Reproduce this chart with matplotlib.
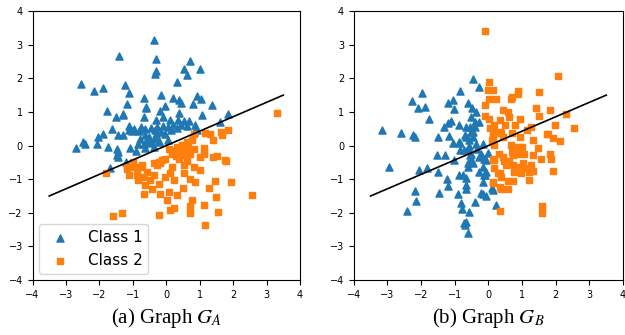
import numpy as np
import matplotlib
matplotlib.use("Agg")
import matplotlib.pyplot as plt

plt.rcParams['mathtext.fontset'] = 'stix'

# panel (a): class 1 (triangles)
a1 = np.array([
    (-0.38, 3.15), (-1.40, 2.66), (-0.32, 2.57), (0.71, 2.51), (1.02, 2.29),
    (0.54, 2.28), (-0.30, 2.22), (-0.33, 2.13), (0.63, 2.09), (0.33, 1.89),
    (-2.55, 1.82), (-2.16, 1.63), (-1.90, 1.72), (-1.24, 1.80), (-1.12, 1.57),
    (-0.67, 1.41), (-0.16, 1.50), (0.19, 1.40), (0.37, 1.35), (0.43, 1.27),
    (0.92, 1.47), (1.05, 1.37), (0.81, 1.25), (1.37, 1.21), (-1.18, 1.23),
    (-0.61, 1.14), (-0.03, 1.17), (-1.77, 1.04), (-1.28, 0.93), (-1.51, 0.84),
    (-0.67, 0.84), (-0.20, 1.02), (0.37, 0.97), (-0.11, 0.85), (0.12, 0.77),
    (-0.32, 0.77), (0.53, 0.73), (0.68, 0.73), (0.35, 0.75), (1.08, 0.90),
    (1.85, 0.94), (1.62, 0.70), (-1.10, 0.58), (-1.10, 0.46), (-1.03, 0.44),
    (-1.63, 0.50), (-0.81, 0.42), (-0.63, 0.50), (-0.46, 0.52), (-0.27, 0.54),
    (-0.09, 0.57), (0.04, 0.55), (0.19, 0.60), (0.31, 0.52), (0.61, 0.57),
    (0.86, 0.60), (0.92, 0.46), (-1.89, 0.33), (-2.05, 0.26), (-1.43, 0.31),
    (-1.30, 0.31), (-0.65, 0.32), (-0.53, 0.26), (-0.04, 0.34), (-0.31, 0.34),
    (-2.48, 0.10), (-2.42, 0.04), (-2.08, 0.04), (-1.74, -0.04), (-2.71, -0.07),
    (-1.08, -0.07), (-0.83, 0.06), (-0.68, 0.06), (-0.58, 0.16), (-0.43, 0.08),
    (-0.23, 0.15), (0.04, 0.18), (-1.44, -0.19), (-1.46, -0.29), (-1.44, -0.34),
    (-0.90, -0.17), (-0.38, -0.04), (-1.68, -0.68), (-1.20, -0.49), (-0.22, 0.11),
    (-1.28, 0.92), (-0.60, 1.12), (-0.95, 0.50), (-0.75, 0.55), (-0.35, 0.45),
    (-0.15, 0.40), (0.15, 0.45), (0.45, 0.60), (0.82, 0.41), (-0.80, 0.20),
    (-0.60, 0.10), (-0.35, 0.20), (-0.63, -0.07), (-1.48, -0.09),
])

# panel (a): class 2 (squares)
a2 = np.array([
    (3.30, 0.97), (1.64, 0.41), (1.84, 0.46), (1.67, 0.31), (1.17, 0.38),
    (1.32, 0.34), (1.40, 0.16), (0.82, 0.34), (0.77, 0.16), (0.62, 0.11),
    (0.47, 0.01), (0.32, -0.03), (1.12, -0.08), (0.82, -0.11), (0.42, -0.24),
    (0.57, -0.29), (0.72, -0.24), (1.02, -0.34), (1.12, -0.24), (1.52, -0.32),
    (1.77, -0.44), (-0.23, -0.49), (-0.28, -0.58), (-0.13, -0.44), (-0.38, -0.53),
    (-0.73, -0.58), (-0.98, -0.58), (-1.18, -0.63), (-1.10, -0.88), (-0.88, -0.88),
    (-0.83, -1.01), (-0.68, -0.93), (0.17, -0.65), (0.10, -0.83), (-0.03, -0.93),
    (0.22, -1.01), (0.52, -0.58), (0.52, -0.83), (0.82, -0.63), (1.02, -0.73),
    (0.72, -0.98), (0.87, -1.08), (-0.38, -0.88), (-0.48, -1.03), (-0.23, -1.13),
    (-0.63, -1.18), (-0.43, -1.28), (-0.18, -1.43), (-0.68, -1.43), (0.07, -1.38),
    (0.32, -1.48), (0.02, -1.62), (0.50, -1.25), (1.47, -1.05), (1.95, -1.08),
    (1.27, -1.25), (1.50, -1.52), (2.57, -1.48), (0.77, -1.62), (0.72, -1.80),
    (1.12, -1.77), (0.22, -1.87), (0.10, -1.92), (1.54, -1.99), (0.70, -2.02),
    (-0.23, -2.07), (-1.33, -2.02), (-1.58, -2.10), (1.17, -2.35), (-1.80, -0.83),
    (-1.16, -0.71), (-1.00, -0.49), (-0.86, -0.66), (1.80, -0.46), (1.14, -0.19),
    (0.17, -0.24), (0.07, -0.09), (-0.03, -0.39), (-0.18, -0.53), (-0.58, -0.78),
    (-0.78, -0.63), (-1.03, -0.63), (0.25, -0.15), (0.38, -0.40), (0.62, -0.45),
    (0.30, -0.30), (0.50, -0.10), (0.65, -0.05), (1.40, -0.34),
])

# panel (b): class 1 (triangles)
b1 = np.array([
    (-3.17, 0.46), (-2.59, 0.36), (-2.23, 0.31), (-2.17, 0.24), (-1.97, 1.56),
    (-2.27, 1.33), (-2.08, 1.13), (-1.88, 1.15), (-1.77, 0.80), (-0.45, 1.99),
    (-0.29, 1.74), (-0.84, 1.62), (-1.06, 1.35), (-1.19, 1.27), (-1.01, 1.10),
    (-0.61, 1.27), (-0.50, 1.13), (-0.37, 1.00), (-0.51, 0.85), (-0.41, 0.70),
    (-0.27, 0.70), (-0.56, 0.55), (-0.68, 0.55), (-0.86, 0.60), (-1.11, 0.73),
    (-1.21, 0.67), (-1.31, 0.55), (-1.16, 0.28), (-1.50, 0.24), (-0.71, 0.31),
    (-0.51, 0.41), (-0.47, 0.26), (-0.58, 0.16), (-1.04, 0.08), (-0.84, 0.08),
    (-0.37, 0.06), (-0.15, 0.06), (-0.45, 0.41), (-0.66, 0.26), (-0.88, 0.11),
    (-2.94, -0.65), (-2.07, -0.73), (-1.83, -0.68), (-1.53, -0.29), (-1.28, -0.29),
    (-1.50, -0.80), (-1.24, -0.98), (-1.21, -1.21), (-2.17, -1.36), (-2.15, -1.65),
    (-2.43, -1.95), (-1.48, -1.41), (-1.01, -0.42), (-0.86, -0.88), (-0.76, -0.88),
    (-0.68, -0.96), (-0.66, -1.18), (-0.68, -1.28), (-0.91, -1.43), (-0.81, -1.70),
    (-0.78, -1.90), (-0.58, -1.97), (-0.74, -2.30), (-0.68, -2.27), (-0.61, -2.61),
    (-0.39, -1.67), (-0.22, -1.41), (-0.15, -1.45), (-0.07, -1.50), (-0.17, -1.08),
    (-0.09, -0.88), (-0.17, -0.63), (-0.07, -0.44), (-0.22, -0.24), (-0.51, -0.44),
    (-0.47, -0.53), (-0.61, -0.51), (-0.54, -0.29), (-0.61, -0.14), (-0.58, -0.02),
    (-0.84, -0.12), (0.11, -1.26), (0.15, -1.31), (0.21, -1.77), (0.00, -0.22),
    (-0.27, -0.34), (-0.12, -0.39), (-0.61, -0.63), (-0.27, -0.78), (-0.07, -0.78),
    (-0.12, -0.88), (-0.71, -2.37), (-0.51, -0.24), (-0.74, -0.14), (-0.35, -0.10),
    (-0.40, 0.55),
])

# panel (b): class 2 (squares)
b2 = np.array([
    (-0.11, 3.41), (2.07, 2.08), (0.03, 1.89), (0.00, 1.66), (0.13, 1.66),
    (0.03, 1.37), (0.21, 1.37), (-0.09, 1.20), (0.68, 1.37), (0.70, 1.45),
    (0.87, 1.62), (0.87, 1.54), (1.51, 1.58), (1.40, 1.12), (1.51, 0.87),
    (1.84, 1.05), (2.31, 0.95), (2.55, 0.52), (1.97, 0.60), (1.76, 0.33),
    (1.91, 0.23), (2.13, 0.14), (1.32, 0.16), (1.48, -0.06), (1.27, 0.55),
    (1.14, 0.46), (0.94, 0.26), (0.95, 0.80), (0.80, 0.60), (0.43, 1.05),
    (0.57, 1.00), (0.62, 0.85), (0.33, 0.77), (0.50, 0.60), (0.18, 0.60),
    (-0.11, 0.87), (0.01, 0.80), (0.05, 0.52), (0.23, 0.41), (0.15, 0.31),
    (0.38, 0.36), (0.43, 0.26), (0.69, 0.38), (0.11, 0.16), (0.67, 0.01),
    (0.99, -0.04), (0.82, -0.09), (0.92, -0.24), (1.07, -0.26), (1.32, -0.29),
    (1.56, -0.39), (1.83, -0.26), (1.86, -0.39), (1.93, -0.76), (0.13, -0.39),
    (0.31, -0.24), (0.43, -0.34), (0.45, -0.46), (0.60, -0.46), (0.72, -0.58),
    (0.77, -0.78), (0.97, -0.83), (1.04, -0.53), (1.07, -0.68), (1.20, -0.78),
    (1.27, -0.58), (1.32, -0.75), (1.20, -1.03), (0.17, -0.68), (0.35, -0.83),
    (0.38, -0.93), (0.15, -1.11), (0.33, -1.23), (0.38, -1.28), (0.57, -1.28),
    (0.57, -1.05), (0.72, -1.05), (0.33, -1.94), (1.60, -1.80), (1.59, -2.02),
    (0.70, -0.19), (1.73, 0.34), (0.18, -0.44), (0.52, -0.58), (0.87, -0.63),
    (0.28, -0.83), (0.13, -1.08), (0.72, -0.29), (0.87, -0.04), (0.13, 0.26),
    (0.33, 0.41), (0.18, 0.01),
])

# separating line, same in both panels
line_x = [-3.5, 3.5]
line_y = [-1.5, 1.5]

ticks = [-4, -3, -2, -1, 0, 1, 2, 3, 4]
captions = ['(a) Graph $G_A$', '(b) Graph $G_B$']

fig = plt.figure(figsize=(6.25, 3.35), dpi=100)
ax_a = fig.add_axes([0.052, 0.164, 0.428, 0.803])
ax_b = fig.add_axes([0.566, 0.164, 0.431, 0.803])

for ax, c1, c2, cap in [(ax_a, a1, a2, captions[0]), (ax_b, b1, b2, captions[1])]:
    ax.scatter(c1[:, 0], c1[:, 1], marker='^', s=26, color='#1f77b4', label='Class 1', zorder=2)
    ax.scatter(c2[:, 0], c2[:, 1], marker='s', s=22, color='#ff7f0e', label='Class 2', zorder=2)
    ax.plot(line_x, line_y, color='black', lw=1.2, zorder=3)
    ax.set_xlim(-4, 4)
    ax.set_ylim(-4, 4)
    ax.set_xticks(ticks)
    ax.set_yticks(ticks)
    ax.tick_params(labelsize=7, length=3.5, width=0.8)
    ax.text(0.5, -0.095, cap, transform=ax.transAxes, ha='center', va='top',
            fontsize=15, family='Liberation Serif')

ax_a.legend(loc='lower left', fontsize=11, scatterpoints=1, handletextpad=0.8,
            borderaxespad=0.4)

fig.savefig('out.png', dpi=100)
